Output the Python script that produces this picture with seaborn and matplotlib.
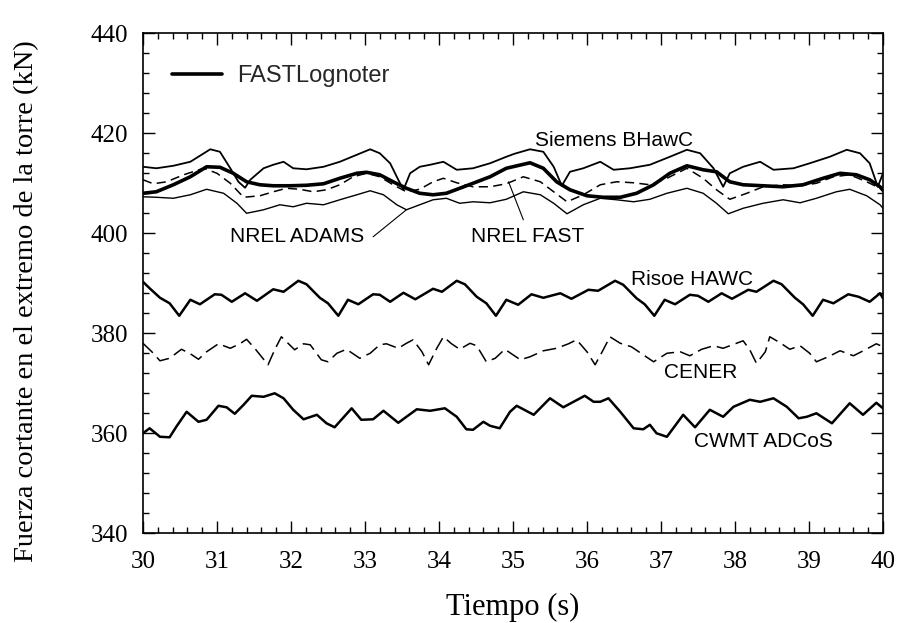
import numpy as np
import matplotlib
matplotlib.use("Agg")
import matplotlib.pyplot as plt
import seaborn as sns
from matplotlib.ticker import MultipleLocator

# ---------------- data ----------------
t_siemens = [30.0, 30.18, 30.41, 30.64, 30.91, 31.04, 31.18, 31.29, 31.38, 31.45, 31.63, 31.76, 31.90, 32.03,
             32.21, 32.44, 32.66, 32.89, 33.07, 33.20, 33.34, 33.45, 33.52, 33.61, 33.74, 33.88, 34.06, 34.24,
             34.46, 34.69, 34.91, 35.02, 35.23, 35.41, 35.55, 35.66, 35.77, 35.95, 36.18, 36.36, 36.58, 36.85,
             37.12, 37.35, 37.53, 37.71, 37.84, 37.93, 38.11, 38.34, 38.52, 38.79, 39.01, 39.28, 39.51, 39.69,
             39.82, 39.93, 40.0]
f_siemens = [413.3, 413.0, 413.5, 414.3, 416.8, 416.3, 413.0, 410.3, 409.1, 410.7, 413.0, 413.7, 414.3, 413.0,
             412.8, 413.3, 414.3, 415.7, 416.8, 416.0, 414.0, 410.7, 408.7, 412.0, 413.3, 413.7, 414.3, 412.7,
             413.0, 414.0, 415.3, 415.9, 416.8, 416.3, 413.3, 409.5, 412.3, 413.0, 414.3, 412.7, 413.0, 413.7,
             415.3, 416.7, 416.0, 413.0, 409.3, 412.0, 413.3, 414.3, 412.7, 413.0, 414.0, 415.3, 416.7, 416.0,
             414.0, 409.3, 412.0]

t_lognoter = [30.0, 30.18, 30.41, 30.64, 30.86, 31.04, 31.22, 31.40, 31.58, 31.76, 31.99, 32.21, 32.44, 32.66,
              32.89, 33.02, 33.20, 33.38, 33.56, 33.74, 33.92, 34.10, 34.28, 34.46, 34.69, 34.91, 35.23, 35.41,
              35.59, 35.77, 36.00, 36.22, 36.45, 36.67, 36.90, 37.12, 37.35, 37.57, 37.75, 37.93, 38.11, 38.38,
              38.65, 38.92, 39.19, 39.42, 39.64, 39.82, 39.96, 40.0]
f_lognoter = [408.0, 408.3, 409.7, 411.3, 413.3, 413.2, 412.0, 410.3, 409.7, 409.5, 409.5, 409.6, 409.9, 411.0,
              412.0, 412.2, 411.7, 410.3, 409.0, 408.0, 407.7, 408.0, 409.0, 410.0, 411.3, 413.0, 414.1, 413.0,
              410.3, 408.7, 407.5, 407.2, 407.2, 408.0, 409.7, 412.0, 413.5, 412.7, 412.3, 410.3, 409.7, 409.5,
              409.3, 409.7, 411.0, 412.0, 411.7, 410.7, 409.3, 408.6]

t_fast = [30.0, 30.14, 30.32, 30.55, 30.82, 31.00, 31.18, 31.36, 31.58, 31.76, 31.94, 32.12, 32.30, 32.48, 32.66,
          32.84, 33.02, 33.20, 33.38, 33.56, 33.74, 33.92, 34.06, 34.24, 34.46, 34.69, 34.91, 35.14, 35.37, 35.55,
          35.73, 35.95, 36.18, 36.40, 36.63, 36.85, 37.08, 37.35, 37.57, 37.75, 37.93, 38.16, 38.38, 38.65, 38.88,
          39.10, 39.33, 39.55, 39.78, 39.96, 40.0]
f_fast = [410.7, 409.9, 410.3, 411.7, 413.0, 412.0, 410.0, 407.2, 407.5, 408.3, 409.0, 408.8, 408.3, 408.7, 409.7,
          411.3, 412.0, 411.3, 409.7, 408.3, 408.8, 410.3, 411.0, 410.1, 409.3, 409.3, 409.9, 411.3, 410.3, 408.3,
          406.3, 407.7, 409.7, 410.3, 410.1, 409.7, 411.0, 413.0, 411.0, 408.7, 406.8, 408.0, 409.3, 409.7, 409.5,
          410.0, 411.3, 411.7, 410.3, 409.0, 408.6]

t_adams = [30.0, 30.18, 30.41, 30.64, 30.86, 31.09, 31.27, 31.40, 31.63, 31.85, 32.03, 32.21, 32.44, 32.66, 32.89,
           33.07, 33.25, 33.43, 33.56, 33.74, 33.92, 34.10, 34.28, 34.46, 34.69, 34.91, 35.14, 35.37, 35.55, 35.73,
           35.95, 36.18, 36.40, 36.63, 36.85, 37.08, 37.35, 37.57, 37.75, 37.91, 38.11, 38.38, 38.65, 38.88, 39.10,
           39.37, 39.55, 39.78, 39.96, 40.0]
f_adams = [407.3, 407.2, 407.0, 407.7, 408.8, 408.0, 406.0, 404.0, 404.7, 405.7, 405.3, 406.0, 405.7, 406.7, 407.7,
           408.5, 407.7, 405.7, 404.7, 405.7, 406.7, 407.0, 406.0, 406.3, 406.1, 406.8, 408.3, 407.7, 406.0, 403.9,
           405.7, 407.0, 406.7, 406.3, 406.8, 408.0, 409.0, 408.0, 406.0, 403.9, 405.0, 406.0, 406.7, 406.1, 407.0,
           408.3, 408.8, 407.5, 405.7, 405.0]

t_risoe = [30.0, 30.09, 30.23, 30.36, 30.49, 30.64, 30.77, 30.97, 31.06, 31.20, 31.38, 31.54, 31.76, 31.90, 32.10,
           32.21, 32.39, 32.50, 32.64, 32.77, 32.91, 33.11, 33.20, 33.34, 33.52, 33.68, 33.92, 34.04, 34.24, 34.35,
           34.51, 34.64, 34.77, 34.91, 35.07, 35.25, 35.41, 35.64, 35.79, 36.02, 36.15, 36.38, 36.49, 36.67, 36.78,
           36.91, 37.05, 37.19, 37.39, 37.50, 37.64, 37.82, 37.96, 38.18, 38.29, 38.52, 38.63, 38.81, 38.92, 39.05,
           39.19, 39.33, 39.53, 39.67, 39.82, 39.96, 40.0]
f_risoe = [390.3, 389.0, 387.1, 386.0, 383.5, 386.7, 385.8, 387.8, 387.7, 386.3, 388.0, 386.5, 388.8, 388.3, 390.5,
           389.8, 387.1, 386.0, 383.5, 386.7, 385.8, 387.8, 387.7, 386.3, 388.1, 386.8, 388.9, 388.3, 390.5, 389.8,
           387.3, 386.0, 383.5, 386.7, 385.7, 387.8, 387.1, 388.0, 386.9, 388.7, 388.5, 390.5, 389.7, 387.0, 385.8,
           383.5, 386.7, 385.8, 387.7, 387.5, 386.3, 388.0, 386.9, 388.7, 388.3, 390.5, 389.8, 387.1, 385.8, 383.5,
           386.7, 386.0, 387.8, 387.3, 386.3, 388.0, 387.0]

t_cener = [30.0, 30.12, 30.23, 30.36, 30.52, 30.64, 30.75, 30.86, 31.02, 31.18, 31.31, 31.40, 31.51, 31.69, 31.78,
           31.87, 31.96, 32.05, 32.17, 32.26, 32.41, 32.50, 32.62, 32.75, 32.93, 33.07, 33.20, 33.29, 33.45, 33.56,
           33.65, 33.77, 33.86, 33.97, 34.06, 34.17, 34.28, 34.42, 34.51, 34.64, 34.76, 34.89, 35.10, 35.23, 35.41,
           35.59, 35.75, 35.86, 36.00, 36.11, 36.22, 36.31, 36.45, 36.60, 36.76, 36.90, 37.08, 37.26, 37.39, 37.55,
           37.71, 37.84, 38.02, 38.11, 38.20, 38.29, 38.41, 38.47, 38.61, 38.74, 38.88, 39.01, 39.10, 39.26, 39.42,
           39.60, 39.76, 39.91, 40.0]
f_cener = [378.0, 376.3, 374.5, 375.0, 376.8, 375.9, 374.8, 376.3, 377.9, 377.0, 377.9, 378.8, 377.0, 373.7, 376.7,
           379.3, 378.0, 376.7, 377.9, 377.7, 374.7, 374.3, 376.0, 376.8, 375.0, 376.0, 377.7, 377.9, 377.0, 378.0,
           378.7, 376.3, 373.7, 377.0, 379.3, 377.9, 376.8, 378.0, 377.5, 374.3, 375.0, 376.8, 374.7, 375.3, 376.5,
           377.0, 377.9, 378.7, 376.3, 373.7, 376.7, 379.3, 378.0, 377.3, 375.7, 374.3, 376.0, 376.3, 375.5, 376.8,
           377.5, 377.0, 378.0, 378.5, 376.7, 374.0, 376.3, 379.3, 378.1, 376.8, 377.5, 376.0, 374.3, 375.3, 376.5,
           375.5, 376.7, 377.9, 377.3]

t_cwmt = [30.0, 30.09, 30.23, 30.36, 30.45, 30.59, 30.75, 30.86, 31.02, 31.13, 31.24, 31.36, 31.47, 31.63, 31.78,
          31.90, 32.03, 32.17, 32.35, 32.48, 32.59, 32.82, 32.95, 33.11, 33.25, 33.45, 33.56, 33.70, 33.88, 34.08,
          34.24, 34.37, 34.46, 34.60, 34.69, 34.82, 34.96, 35.05, 35.28, 35.50, 35.68, 35.97, 36.09, 36.18, 36.29,
          36.45, 36.63, 36.76, 36.85, 36.94, 37.08, 37.30, 37.46, 37.66, 37.84, 37.98, 38.20, 38.34, 38.52, 38.70,
          38.86, 38.97, 39.10, 39.31, 39.55, 39.73, 39.91, 40.0]
f_cwmt = [360.0, 361.0, 359.3, 359.2, 361.3, 364.3, 362.3, 362.7, 365.5, 365.2, 363.9, 365.7, 367.5, 367.3, 368.0,
          367.0, 364.7, 362.8, 363.7, 362.0, 361.2, 365.0, 362.7, 362.8, 364.5, 362.1, 363.3, 364.8, 364.5, 365.0,
          363.3, 360.8, 360.7, 362.3, 361.5, 361.0, 364.3, 365.5, 363.7, 367.0, 365.2, 367.5, 366.3, 366.3, 367.0,
          364.3, 361.0, 360.8, 361.7, 360.0, 359.3, 363.7, 361.2, 364.7, 363.3, 365.3, 366.7, 366.3, 367.0, 365.3,
          363.0, 363.3, 364.0, 362.0, 366.0, 363.7, 366.1, 365.0]

x_ticks = [30, 31, 32, 33, 34, 35, 36, 37, 38, 39, 40]
y_ticks = [340, 360, 380, 400, 420, 440]

# ---------------- plotting ----------------
sns.set_theme(style="ticks")
plt.rcParams['font.family'] = ['Liberation Serif', 'DejaVu Serif']

fig = plt.figure(figsize=(9.06, 6.23), dpi=100)
ax = fig.add_axes([0.1578, 0.144, 0.8168, 0.8026])

k = dict(ax=ax, color='black', sort=False, estimator=None)
sns.lineplot(x=t_siemens, y=f_siemens, lw=1.3, **k)
sns.lineplot(x=t_adams, y=f_adams, lw=1.0, **k)
sns.lineplot(x=t_fast, y=f_fast, lw=1.1, linestyle=(0, (6, 3.5)), **k)
sns.lineplot(x=t_lognoter, y=f_lognoter, lw=2.6, label='FASTLognoter', **k)
sns.lineplot(x=t_risoe, y=f_risoe, lw=1.8, **k)
sns.lineplot(x=t_cener, y=f_cener, lw=1.1, linestyle=(0, (9, 4)), **k)
sns.lineplot(x=t_cwmt, y=f_cwmt, lw=1.8, **k)

ax.set_xlim(30, 40)
ax.set_ylim(340, 440)
ax.set_xticks(x_ticks)
ax.set_yticks(y_ticks)
ax.xaxis.set_minor_locator(MultipleLocator(0.2))
ax.yaxis.set_minor_locator(MultipleLocator(4))
ax.tick_params(which='both', direction='in', top=True, right=True, color='black', width=1.0)
ax.tick_params(which='major', length=8.6, labelsize=18)
ax.tick_params(which='minor', length=4.3)
ax.tick_params(axis='x', which='major', pad=13)
ax.tick_params(axis='y', which='major', pad=10.5)
for s in ax.spines.values():
    s.set_color('black')
    s.set_linewidth(1.2)
for lab in ax.get_xticklabels() + ax.get_yticklabels():
    lab.set_color('black')

ax.set_xlabel('Tiempo (s)', fontsize=22, color='black', labelpad=14)
ax.set_ylabel('Fuerza cortante en el extremo de la torre (kN)', fontsize=20.5, color='black')
ax.yaxis.set_label_coords(-0.14, 0.465)

sans = ['Liberation Sans', 'DejaVu Sans']
tk = dict(ha='center', va='center', fontsize=15, family=sans, color='black')
ax.text(36.36, 418.6, 'Siemens BHawC', **tk)
ax.text(32.08, 399.3, 'NREL ADAMS', **tk)
ax.text(35.20, 399.3, 'NREL FAST', **tk)
ax.text(37.42, 390.7, 'Risoe HAWC', **tk)
ax.text(37.53, 372.2, 'CENER', **tk)
ax.text(38.38, 358.3, 'CWMT ADCoS', **tk)

ax.plot([33.11, 33.56], [399.3, 404.7], color='black', lw=0.8)
ax.plot([35.14, 34.94], [402.7, 410.3], color='black', lw=0.8)

leg = ax.legend(loc='upper left', bbox_to_anchor=(0.027, 0.955), frameon=False,
                handlelength=2.1, handletextpad=0.65, borderaxespad=0,
                prop={'family': sans, 'size': 17})

fig.savefig('out.png', dpi=100)
